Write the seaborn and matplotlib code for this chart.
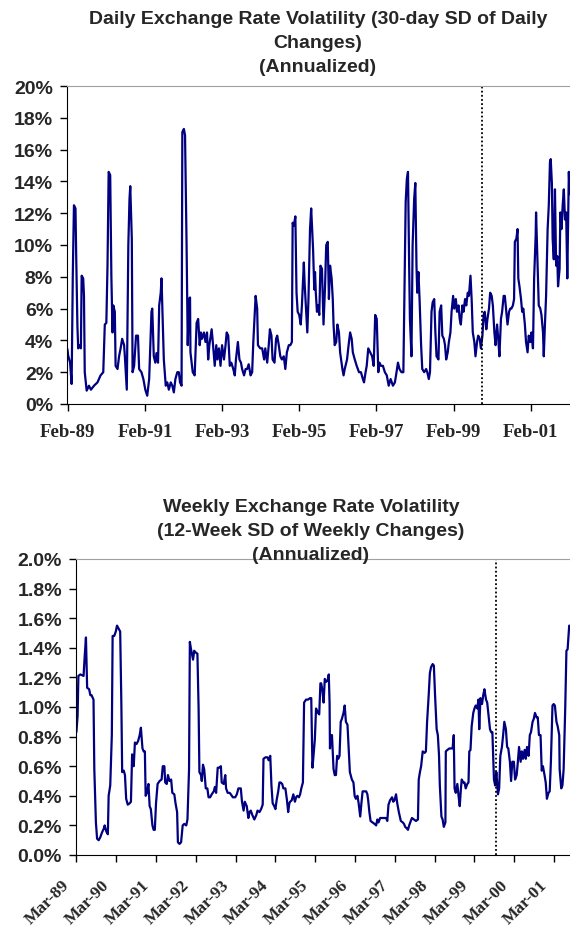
import matplotlib
matplotlib.use("Agg")
import matplotlib.pyplot as plt
import matplotlib.ticker as mtick
import matplotlib.transforms as mtrans
import seaborn as sns
import pandas as pd

# Daily volatility (30-day SD of daily changes, annualized, %), x in decimal years
daily_years = [
    1989.07, 1989.09, 1989.14, 1989.18, 1989.21, 1989.24, 1989.28, 1989.30, 1989.33, 1989.35,
    1989.38, 1989.42, 1989.44, 1989.48, 1989.50, 1989.52, 1989.57, 1989.63, 1989.68, 1989.76,
    1989.85, 1989.93, 1990.00, 1990.04, 1990.08, 1990.11, 1990.14, 1990.18, 1990.21, 1990.24,
    1990.26, 1990.30, 1990.32, 1990.37, 1990.41, 1990.45, 1990.49, 1990.54, 1990.56, 1990.61,
    1990.65, 1990.68, 1990.70, 1990.74, 1990.76, 1990.80, 1990.85, 1990.90, 1990.93, 1990.99,
    1991.04, 1991.09, 1991.14, 1991.19, 1991.25, 1991.27, 1991.31, 1991.35, 1991.38, 1991.42,
    1991.45, 1991.49, 1991.51, 1991.54, 1991.57, 1991.62, 1991.66, 1991.70, 1991.75, 1991.79,
    1991.83, 1991.87, 1991.92, 1991.96, 1991.99, 1992.03, 1992.05, 1992.09, 1992.12, 1992.16,
    1992.19, 1992.22, 1992.25,
    1992.26, 1992.29, 1992.32, 1992.37, 1992.42, 1992.46, 1992.50, 1992.53, 1992.56, 1992.61,
    1992.65, 1992.69, 1992.72, 1992.75, 1992.81, 1992.84, 1992.89, 1992.93, 1992.96, 1993.00,
    1993.04, 1993.08, 1993.13, 1993.17, 1993.20, 1993.24, 1993.28, 1993.32, 1993.37, 1993.41,
    1993.44, 1993.49, 1993.53, 1993.57, 1993.60, 1993.65, 1993.69, 1993.73, 1993.77, 1993.82,
    1993.86, 1993.89, 1993.92, 1993.95, 1993.99, 1994.01, 1994.07, 1994.12, 1994.17, 1994.20,
    1994.25, 1994.29, 1994.32, 1994.36, 1994.39, 1994.44, 1994.48, 1994.51, 1994.55, 1994.59,
    1994.63, 1994.68, 1994.72, 1994.76, 1994.81, 1994.85, 1994.89, 1994.91, 1994.94, 1994.98,
    1995.01, 1995.04, 1995.08, 1995.12, 1995.15, 1995.20, 1995.22, 1995.26, 1995.29, 1995.32,
    1995.36, 1995.39, 1995.44, 1995.47,
    1995.49, 1995.51, 1995.54, 1995.57, 1995.60, 1995.63, 1995.67, 1995.71, 1995.75, 1995.78,
    1995.82, 1995.85, 1995.88, 1995.92, 1995.95, 1995.97, 1996.00, 1996.04, 1996.07, 1996.11,
    1996.14, 1996.20, 1996.23, 1996.26, 1996.32, 1996.36, 1996.40, 1996.44, 1996.47, 1996.52,
    1996.57, 1996.63, 1996.68, 1996.73, 1996.76, 1996.80, 1996.83, 1996.87, 1996.92, 1996.97,
    1997.01, 1997.05, 1997.09, 1997.13, 1997.16, 1997.20, 1997.25, 1997.30, 1997.35, 1997.40,
    1997.45, 1997.51, 1997.56, 1997.59, 1997.64, 1997.68, 1997.73, 1997.78, 1997.82, 1997.84,
    1997.87, 1997.90, 1997.93, 1997.95, 1997.99, 1998.02, 1998.06, 1998.09, 1998.12, 1998.14,
    1998.17, 1998.20, 1998.24, 1998.27, 1998.32, 1998.37, 1998.40, 1998.44, 1998.47, 1998.51,
    1998.54, 1998.58, 1998.61, 1998.64, 1998.69, 1998.72,
    1998.76, 1998.79, 1998.83, 1998.86, 1998.89, 1998.93, 1998.96, 1999.00, 1999.03, 1999.07,
    1999.10, 1999.14, 1999.17, 1999.21, 1999.24, 1999.27, 1999.31, 1999.34, 1999.38, 1999.41,
    1999.45, 1999.48, 1999.52, 1999.55, 1999.58, 1999.62, 1999.65, 1999.69, 1999.72, 1999.76,
    1999.79, 1999.83, 1999.86, 1999.89, 1999.93, 1999.96, 2000.00, 2000.03, 2000.07, 2000.10,
    2000.14, 2000.17, 2000.21, 2000.24, 2000.27, 2000.31, 2000.34, 2000.38, 2000.41, 2000.45,
    2000.48, 2000.52, 2000.55, 2000.58, 2000.62, 2000.65, 2000.67, 2000.71, 2000.74, 2000.76,
    2000.79, 2000.83, 2000.86, 2000.89, 2000.93, 2000.96, 2001.00, 2001.03, 2001.07, 2001.10,
    2001.14, 2001.17, 2001.21, 2001.22, 2001.26, 2001.29, 2001.33, 2001.36, 2001.40, 2001.42,
    2001.45, 2001.48, 2001.52, 2001.55, 2001.58, 2001.60, 2001.63, 2001.65, 2001.68, 2001.71,
    2001.74, 2001.77, 2001.79, 2001.83, 2001.85, 2001.88, 2001.91, 2001.94, 2001.97, 2002.00,
    2002.03, 2002.07, 2002.09,
]
daily_vol = [
    3.46, 3.05, 2.6, 1.26, 8.07, 12.5, 12.3, 9.1, 4.9, 3.5,
    3.7, 3.5, 8.07, 7.9, 6.8, 2.0, 0.84, 1.15, 0.9, 1.15,
    1.36, 1.8, 2.0, 5.0, 5.1, 8.7, 14.6, 14.4, 8.07, 4.5,
    6.2, 5.8, 2.4, 2.2, 3.0, 3.5, 4.1, 3.7, 3.0, 0.9,
    10.0, 12.9, 13.7, 10.4, 2.0, 2.4, 4.3, 4.3, 2.2, 2.0,
    1.57, 0.9, 0.52, 1.57, 5.8, 6.0, 3.0, 2.6, 3.2, 2.6,
    6.2, 7.0, 7.9, 5.35, 2.8, 1.15, 1.36, 0.9, 1.36, 1.15,
    0.73, 1.57, 2.0, 2.0, 1.36, 1.15, 17.1, 17.3, 16.9, 10.0,
    3.7, 6.6, 6.7,
    3.25, 2.6, 2.0, 1.8, 5.1, 5.35, 3.7, 4.5, 4.1, 4.5,
    3.9, 4.5, 2.8, 3.7, 4.7, 3.9, 2.4, 3.7, 2.8, 3.5,
    2.4, 3.7, 2.8, 3.7, 4.5, 4.3, 2.4, 2.6, 2.2, 1.8,
    2.8, 3.9, 2.8, 2.6, 2.2, 1.8, 2.2, 2.2, 2.5, 1.8,
    2.0, 3.9, 5.35, 6.8, 6.0, 3.7, 3.5, 3.5, 2.8, 3.5,
    2.6, 3.7, 4.7, 4.3, 2.8, 2.6, 4.1, 4.3, 3.7, 3.0,
    2.8, 3.0, 2.2, 3.25, 3.7, 3.7, 3.9, 11.4, 11.2, 11.8,
    7.0, 5.8, 5.6, 5.0, 6.2, 8.9, 7.6, 5.8, 4.5, 6.6,
    11.0, 12.3, 9.7, 7.2,
    8.3, 7.0, 5.8, 6.2, 5.6, 8.7, 8.5, 5.0, 7.4, 10.0,
    10.2, 6.6, 8.7, 7.9, 6.6, 5.0, 3.7, 3.9, 5.0, 4.5,
    3.25, 2.2, 1.8, 2.2, 2.8, 3.7, 4.5, 4.1, 3.25, 2.8,
    2.4, 2.0, 2.0, 1.57, 1.36, 2.0, 2.4, 3.5, 3.25, 3.0,
    2.4, 5.6, 5.35, 2.0, 2.6, 2.4, 2.4, 2.0, 1.8, 1.15,
    1.57, 1.15, 1.36, 1.8, 2.6, 2.2, 2.0, 2.0, 9.1, 12.7,
    14.15, 14.6, 8.7, 5.35, 3.0, 10.0, 12.9, 13.9, 8.7, 7.0,
    8.3, 6.6, 3.7, 2.2, 2.0, 2.2, 2.0, 1.57, 2.0, 5.8,
    6.4, 6.6, 4.5, 3.0, 2.8, 5.8,
    6.2, 4.3, 4.1, 3.7, 2.8, 3.25, 3.9, 4.5, 5.8, 6.8,
    6.0, 6.6, 5.8, 6.2, 5.35, 5.0, 6.2, 5.8, 6.6, 6.2,
    7.0, 6.8, 8.07, 6.6, 4.5, 3.9, 3.0, 3.9, 4.3, 4.1,
    3.5, 4.3, 5.6, 5.8, 4.7, 5.35, 6.0, 7.0, 6.8, 6.2,
    4.5, 3.7, 5.0, 4.1, 3.0, 5.35, 5.8, 6.8, 6.8, 5.8,
    5.0, 5.8, 6.0, 6.0, 6.2, 6.6, 10.2, 10.4, 11.0, 7.9,
    7.4, 6.6, 5.8, 6.0, 5.0, 3.9, 3.25, 4.3, 3.9, 4.5,
    3.5, 7.9, 10.6, 12.05, 8.7, 6.2, 6.0, 5.6, 4.5, 3.0,
    5.0, 6.8, 11.0, 12.5, 15.2, 15.4, 13.9, 10.4, 9.1, 13.5,
    8.7, 9.3, 7.4, 8.5, 12.05, 11.0, 12.5, 13.5, 11.6, 12.05,
    7.9, 14.6, 13.2,
]

# Weekly volatility (12-week SD of weekly changes, annualized, %)
weekly_years = [
    1989.17, 1989.20, 1989.22, 1989.27, 1989.35, 1989.38, 1989.41, 1989.44, 1989.49, 1989.52,
    1989.55, 1989.60, 1989.62, 1989.66, 1989.69, 1989.73, 1989.77, 1989.81, 1989.86, 1989.88,
    1989.92, 1989.96, 1989.98, 1990.02, 1990.06, 1990.08, 1990.12, 1990.16, 1990.19, 1990.23,
    1990.27, 1990.30, 1990.32, 1990.36, 1990.39, 1990.42, 1990.46, 1990.51, 1990.54, 1990.57,
    1990.61, 1990.64, 1990.68, 1990.72, 1990.76, 1990.79, 1990.83, 1990.86, 1990.89, 1990.91,
    1990.94, 1990.98, 1991.01, 1991.04, 1991.08, 1991.11, 1991.14, 1991.17, 1991.21, 1991.26,
    1991.31, 1991.34, 1991.38, 1991.40, 1991.44, 1991.47, 1991.51, 1991.55, 1991.58, 1991.63,
    1991.66, 1991.70, 1991.72, 1991.76, 1991.80, 1991.84, 1991.88, 1991.93, 1991.96, 1992.00,
    1992.02, 1992.05, 1992.10, 1992.13, 1992.16, 1992.21, 1992.24, 1992.26, 1992.30, 1992.32,
    1992.35, 1992.38, 1992.42, 1992.46, 1992.49, 1992.53, 1992.57, 1992.62, 1992.65, 1992.68,
    1992.72, 1992.76, 1992.80, 1992.82, 1992.87, 1992.91, 1992.93, 1992.97, 1993.02, 1993.05,
    1993.10, 1993.16, 1993.20, 1993.24, 1993.30, 1993.33, 1993.37, 1993.40, 1993.45, 1993.49,
    1993.52, 1993.55, 1993.59, 1993.64, 1993.69, 1993.72, 1993.77, 1993.81, 1993.85, 1993.87,
    1993.92, 1993.97, 1994.00, 1994.04, 1994.07, 1994.10, 1994.14, 1994.17, 1994.20, 1994.24,
    1994.27, 1994.30, 1994.34, 1994.37, 1994.42, 1994.46, 1994.49, 1994.52,
    1994.54, 1994.58, 1994.62, 1994.66, 1994.69, 1994.72, 1994.76, 1994.79, 1994.82, 1994.86,
    1994.89, 1994.94, 1994.99, 1995.04, 1995.07, 1995.10, 1995.12, 1995.16, 1995.19, 1995.24,
    1995.27, 1995.30, 1995.32, 1995.35, 1995.38, 1995.41, 1995.44, 1995.48, 1995.51, 1995.53,
    1995.54, 1995.56, 1995.59, 1995.63, 1995.66, 1995.69, 1995.72, 1995.75, 1995.78, 1995.81,
    1995.84, 1995.88, 1995.91, 1995.94, 1995.98, 1996.01, 1996.04, 1996.09, 1996.13, 1996.16,
    1996.19, 1996.23, 1996.26, 1996.30, 1996.33, 1996.36, 1996.40, 1996.45, 1996.48, 1996.50,
    1996.53, 1996.56, 1996.61, 1996.66, 1996.70, 1996.73, 1996.76, 1996.80, 1996.85, 1996.90,
    1996.95, 1996.98, 1997.01, 1997.05, 1997.10, 1997.13, 1997.16, 1997.20, 1997.23, 1997.27,
    1997.32, 1997.37, 1997.40, 1997.43, 1997.47, 1997.50, 1997.53, 1997.57, 1997.60, 1997.65,
    1997.70, 1997.75, 1997.77, 1997.80, 1997.83, 1997.87, 1997.92, 1997.95, 1997.98, 1998.02,
    1998.05, 1998.08, 1998.12, 1998.15, 1998.18, 1998.22, 1998.25, 1998.28, 1998.30, 1998.34,
    1998.37, 1998.40, 1998.44, 1998.45, 1998.49, 1998.54, 1998.59, 1998.62, 1998.65, 1998.67,
    1998.70, 1998.74, 1998.77, 1998.80, 1998.83, 1998.85, 1998.89, 1998.92, 1998.95, 1998.99,
    1999.02, 1999.04, 1999.07, 1999.10, 1999.14, 1999.17, 1999.20, 1999.24, 1999.27, 1999.29,
    1999.32, 1999.36, 1999.39, 1999.42, 1999.46, 1999.49, 1999.52, 1999.56, 1999.59, 1999.62,
    1999.66, 1999.69, 1999.72, 1999.76, 1999.79, 1999.82, 1999.86, 1999.89, 1999.92, 1999.96,
    1999.99, 2000.02, 2000.06, 2000.09, 2000.12, 2000.16, 2000.19, 2000.23, 2000.26, 2000.29,
    2000.33, 2000.36, 2000.39, 2000.43, 2000.46, 2000.49, 2000.53, 2000.56, 2000.59, 2000.63,
    2000.66, 2000.69, 2000.73, 2000.76, 2000.79, 2000.83, 2000.86, 2000.89, 2000.93, 2000.96,
    2000.99, 2001.03, 2001.06, 2001.09, 2001.13, 2001.16, 2001.19, 2001.23, 2001.26, 2001.30,
    2001.31, 2001.35, 2001.38, 2001.41, 2001.45, 2001.48, 2001.51, 2001.55,
]
weekly_vol = [
    0.83, 0.94, 1.21, 1.22, 1.21, 1.35, 1.47, 1.13, 1.12, 1.08,
    1.08, 1.05, 0.58, 0.22, 0.11, 0.10, 0.12, 0.15, 0.18, 0.20,
    0.16, 0.14, 0.40, 0.47, 0.81, 1.48, 1.48, 1.51, 1.55, 1.53,
    1.51, 1.01, 0.56, 0.57, 0.54, 0.38, 0.34, 0.35, 0.36, 0.68,
    0.60, 0.76, 0.75, 0.77, 0.81, 0.86, 0.72, 0.70, 0.70, 0.40,
    0.42, 0.48, 0.33, 0.31, 0.20, 0.17, 0.17, 0.35, 0.48, 0.50,
    0.51, 0.60, 0.60, 0.49, 0.48, 0.54, 0.50, 0.51, 0.42, 0.41,
    0.35, 0.29, 0.086, 0.075, 0.086, 0.20, 0.21, 0.20, 0.24, 0.58,
    1.44, 1.39, 1.32, 1.38, 1.37, 1.36, 0.99, 0.56, 0.54, 0.50,
    0.61, 0.58, 0.45, 0.45, 0.39, 0.39, 0.41, 0.43, 0.46, 0.42,
    0.59, 0.59, 0.60, 0.49, 0.48, 0.54, 0.45, 0.42, 0.42, 0.41,
    0.39, 0.39, 0.41, 0.45, 0.45, 0.36, 0.30, 0.36, 0.33, 0.25,
    0.29, 0.30, 0.27, 0.24, 0.27, 0.30, 0.29, 0.31, 0.34, 0.65,
    0.66, 0.66, 0.64, 0.67, 0.47, 0.35, 0.33, 0.31, 0.37, 0.43,
    0.49, 0.49, 0.48, 0.45, 0.45, 0.37, 0.29, 0.35,
    0.36, 0.37, 0.41, 0.36, 0.39, 0.40, 0.39, 0.41, 0.45, 0.49,
    1.03, 1.05, 1.05, 1.06, 1.06, 0.59, 0.65, 0.78, 0.99, 0.96,
    0.95, 1.16, 1.16, 1.11, 1.03, 1.19, 1.17, 1.18, 1.22, 1.03,
    0.72, 0.81, 0.81, 0.58, 0.54, 0.54, 0.67, 0.65, 0.67, 0.90,
    0.92, 0.96, 1.01, 0.90, 0.88, 0.72, 0.56, 0.51, 0.49, 0.40,
    0.38, 0.40, 0.35, 0.26, 0.35, 0.43, 0.43, 0.43, 0.41, 0.37,
    0.29, 0.23, 0.22, 0.21, 0.20, 0.24, 0.22, 0.25, 0.25, 0.25,
    0.25, 0.23, 0.34, 0.37, 0.39, 0.36, 0.37, 0.41, 0.35, 0.29,
    0.23, 0.22, 0.21, 0.19, 0.18, 0.17, 0.20, 0.23, 0.25, 0.24,
    0.23, 0.24, 0.51, 0.56, 0.60, 0.70, 0.69, 0.70, 0.90, 1.08,
    1.23, 1.27, 1.29, 1.28, 1.08, 0.85, 0.81, 0.67, 0.47, 0.26,
    0.24, 0.19, 0.22, 0.70, 0.71, 0.72, 0.72, 0.72, 0.81, 0.45,
    0.42, 0.48, 0.40, 0.33, 0.45, 0.51, 0.49, 0.49, 0.45, 0.48,
    0.49, 0.70, 0.71, 0.87, 0.96, 0.99, 1.01, 0.99, 1.05, 0.85,
    1.06, 1.02, 1.08, 1.12, 1.05, 1.03, 0.95, 0.85, 0.83, 0.83,
    0.51, 0.47, 0.56, 0.41, 0.45, 0.67, 0.73, 0.81, 0.90, 0.85,
    0.73, 0.72, 0.63, 0.50, 0.63, 0.63, 0.51, 0.54, 0.63, 0.73,
    0.63, 0.70, 0.65, 0.71, 0.65, 0.73, 0.67, 0.81, 0.83, 0.90,
    0.92, 0.96, 0.93, 0.93, 0.81, 0.81, 0.57, 0.60, 0.54, 0.49,
    0.38, 0.42, 0.43, 0.63, 1.01, 1.02, 1.01, 0.90, 0.87, 0.81,
    0.58, 0.45, 0.47, 0.58, 0.99, 1.38, 1.39, 1.55,
]

daily_ticks = [1989.08, 1991.08, 1993.08, 1995.08, 1997.08, 1999.08, 2001.08]
daily_labels = ["Feb-89", "Feb-91", "Feb-93", "Feb-95", "Feb-97", "Feb-99", "Feb-01"]
weekly_ticks = [1989.17 + k for k in range(13)]
weekly_labels = ["Mar-89", "Mar-90", "Mar-91", "Mar-92", "Mar-93", "Mar-94", "Mar-95",
                 "Mar-96", "Mar-97", "Mar-98", "Mar-99", "Mar-00", "Mar-01"]
break_daily = 1999.82
break_weekly = 1999.72

daily_title = ["Daily Exchange Rate Volatility (30-day SD of Daily", "Changes)", "(Annualized)"]
weekly_title = ["Weekly Exchange Rate Volatility", "(12-Week SD of Weekly Changes)", "(Annualized)"]

sns.set_style("ticks")
plt.rcParams["font.family"] = ["Liberation Sans", "DejaVu Sans"]

NAVY = "#000080"
W, H = 570, 928
fig = plt.figure(figsize=(W / 100, H / 100), dpi=100)

daily = pd.DataFrame({"year": daily_years, "vol": daily_vol})
weekly = pd.DataFrame({"year": weekly_years, "vol": weekly_vol})


def px_axes(left, top, right, bottom):
    return fig.add_axes([left / W, 1 - bottom / H, (right - left) / W, (bottom - top) / H])


def style_axes(ax, ticks, labels, rot, decimals, ymax, ystep):
    ax.set_ylim(0, ymax)
    ax.yaxis.set_major_locator(mtick.MultipleLocator(ystep))
    ax.yaxis.set_major_formatter(mtick.PercentFormatter(xmax=100, decimals=decimals))
    ax.set_xticks(ticks)
    ax.tick_params(axis="both", direction="out", length=5, width=1, color="black")
    ax.tick_params(axis="y", pad=5)
    ax.tick_params(axis="x", pad=9 if not rot else 11)
    if rot:
        ax.set_xticklabels(labels, rotation=45, ha="right", va="center", rotation_mode="anchor",
                           fontfamily="Liberation Serif", fontweight="bold", fontsize=12.5)
    else:
        ax.set_xticklabels(labels, fontfamily="Liberation Serif", fontweight="bold", fontsize=13.5)
    for t in ax.get_yticklabels():
        t.set_fontweight("bold")
        t.set_fontsize(14)
    ax.set_xlabel("")
    ax.set_ylabel("")
    ax.spines["right"].set_visible(False)
    ax.spines["top"].set_visible(True)
    ax.spines["top"].set_color("#a0a0a0")
    ax.spines["left"].set_color("black")
    ax.spines["bottom"].set_color("black")
    ax.set_facecolor("white")


# Top chart: daily
ax1 = px_axes(67, 87, 570, 405)
sns.lineplot(data=daily, x="year", y="vol", ax=ax1, color=NAVY, linewidth=1.6,
             estimator=None, sort=False)
ax1.axvline(break_daily, color="black", linestyle=(0, (1, 1.3)), linewidth=1.3)
ax1.set_xlim(1989.06, 2002.1)
style_axes(ax1, daily_ticks, daily_labels, False, 0, 20, 2)
for i, line in enumerate(daily_title):
    fig.text(318 / W, 1 - (20 + 24 * i) / H, line, ha="center", va="center",
             fontsize=14, fontweight="bold")

# Bottom chart: weekly
ax2 = px_axes(76, 560, 570, 856)
sns.lineplot(data=weekly, x="year", y="vol", ax=ax2, color=NAVY, linewidth=1.6,
             estimator=None, sort=False)
ax2.axvline(break_weekly, color="black", linestyle=(0, (1, 1.3)), linewidth=1.3)
ax2.set_xlim(1989.16, 2001.57)
style_axes(ax2, weekly_ticks, weekly_labels, True, 1, 2.0, 0.2)
# nudge rotated labels left and a little down like the original
shift = mtrans.ScaledTranslation(-9 / 100, -5 / 100, fig.dpi_scale_trans)
for t in ax2.get_xticklabels():
    t.set_transform(t.get_transform() + shift)
for i, line in enumerate(weekly_title):
    fig.text(311 / W, 1 - (508 + 24 * i) / H, line, ha="center", va="center",
             fontsize=14, fontweight="bold", zorder=5)

fig.savefig("out.png", dpi=100, facecolor="white")
